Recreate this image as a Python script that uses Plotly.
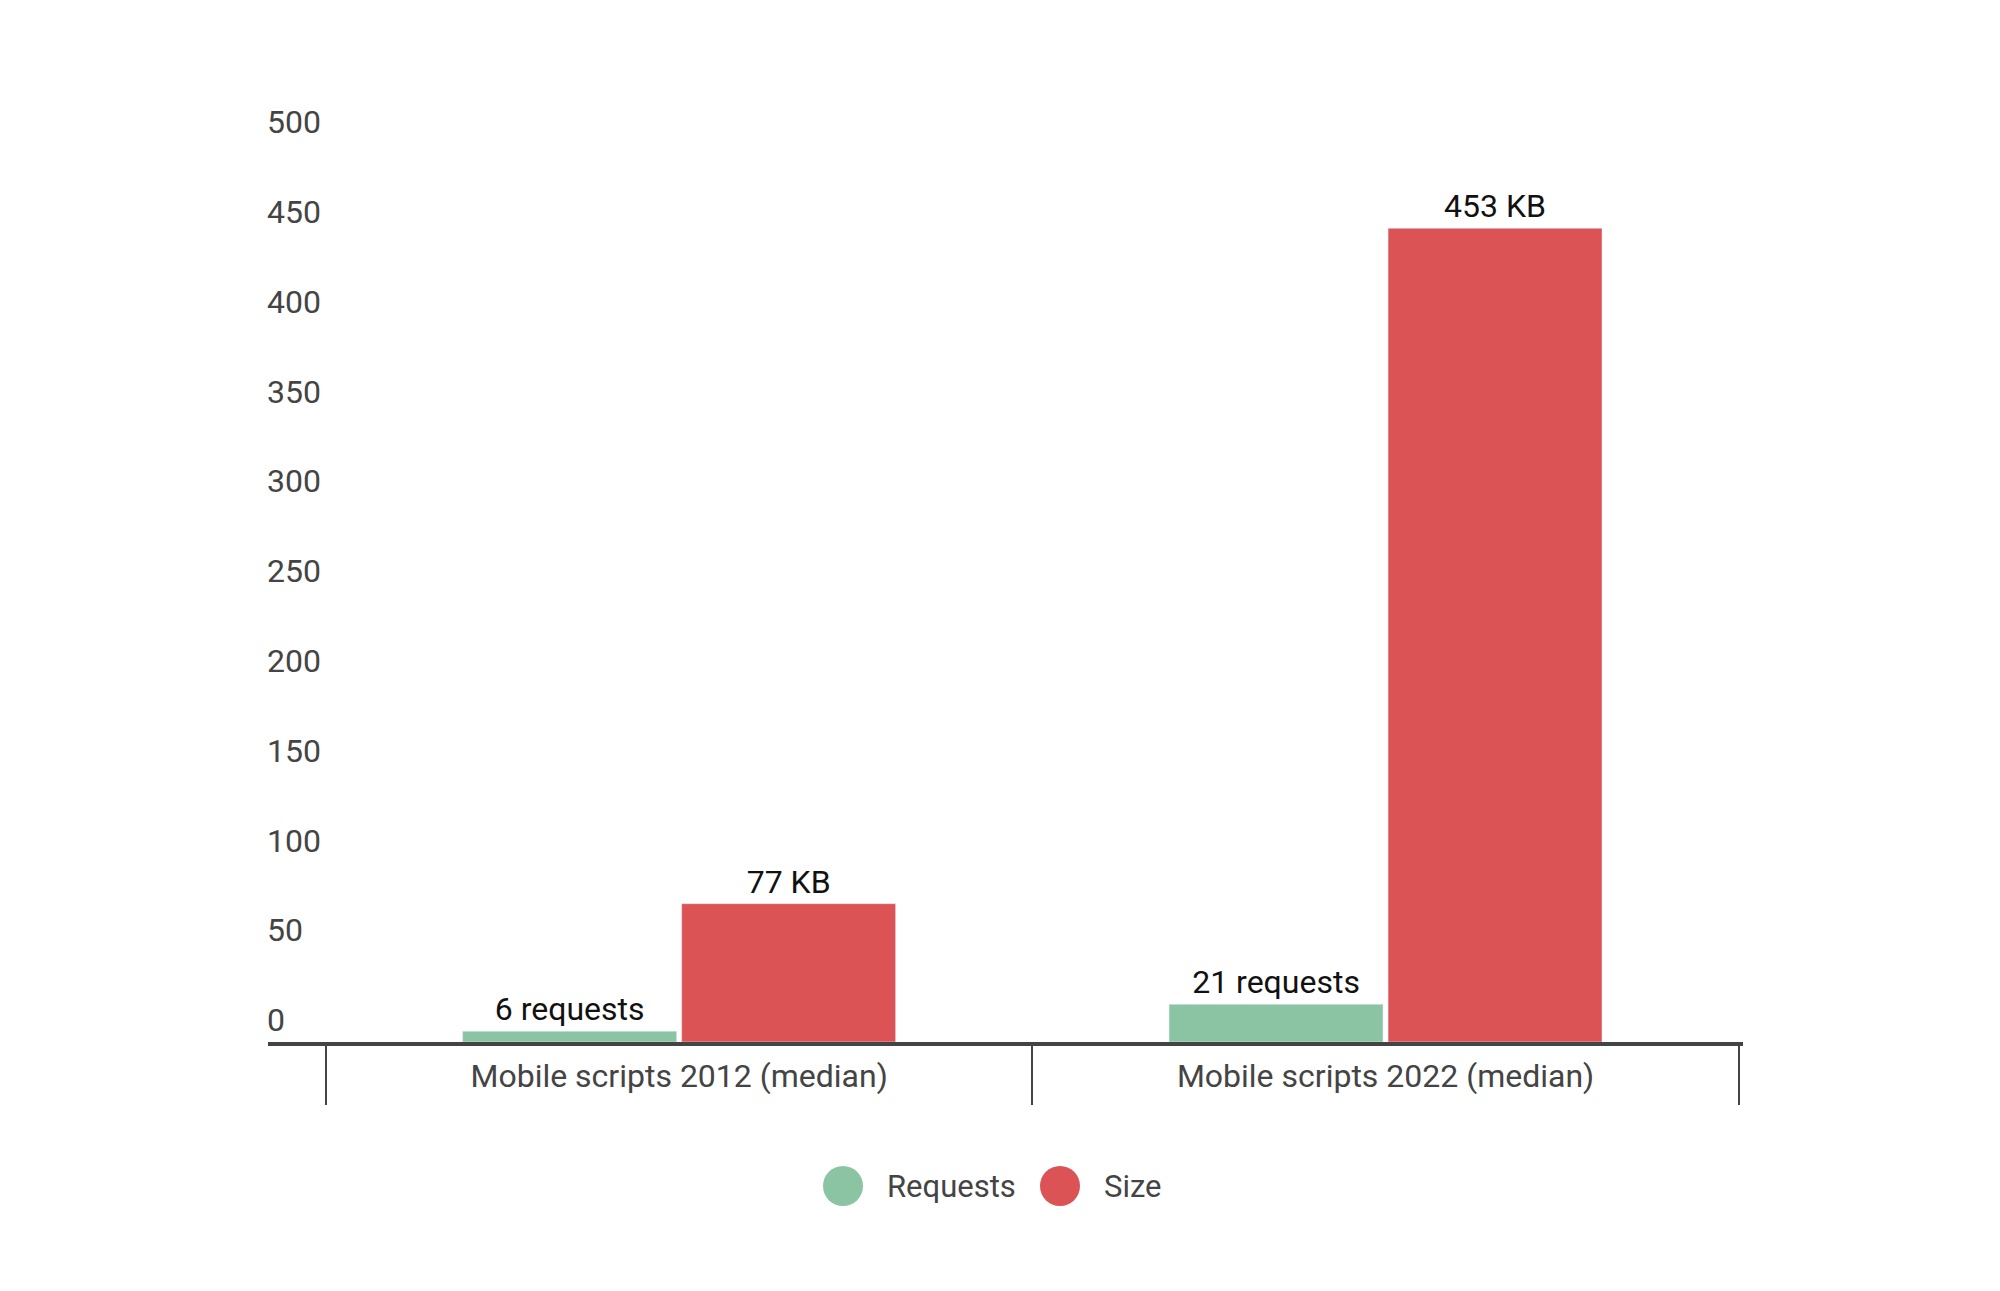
import plotly.graph_objects as go

categories = ["Mobile scripts 2012 (median)", "Mobile scripts 2022 (median)"]
requests_vals = [6, 21]
size_vals = [77, 453]
requests_labels = ["6 requests", "21 requests"]
size_labels = ["77 KB", "453 KB"]
y_ticks = [0, 50, 100, 150, 200, 250, 300, 350, 400, 450, 500]

GREEN = "#8BC4A2"
RED = "#DC5355"
FONT = "Roboto"
XR = [-0.582, 1.506]

fig = go.Figure()
fig.add_trace(go.Bar(
    x=categories, y=requests_vals, name="Requests", marker_color=GREEN,
    text=requests_labels, textposition="outside", cliponaxis=False,
    textfont=dict(family=FONT, size=32, color="#111111"), showlegend=False,
))
fig.add_trace(go.Bar(
    x=categories, y=size_vals, name="Size", marker_color=RED,
    text=size_labels, textposition="outside", cliponaxis=False,
    textfont=dict(family=FONT, size=32, color="#111111"), showlegend=False,
))
# invisible trace that carries the category divider ticks
fig.add_trace(go.Scatter(
    x=categories, y=[0, 0], xaxis="x2", mode="markers",
    marker=dict(opacity=0), showlegend=False, hoverinfo="skip",
))

ML, MR, MT, MB = 260, 265, 73, 257
fig.update_layout(
    width=2000, height=1291,
    margin=dict(l=ML, r=MR, t=MT, b=MB),
    paper_bgcolor="white", plot_bgcolor="white",
    font=dict(family=FONT, size=32, color="#444444"),
    barmode="group", bargap=0.38, bargroupgap=0.023,
    xaxis=dict(
        type="category", categoryorder="array", categoryarray=categories,
        range=XR, showgrid=False, zeroline=False,
        showline=True, linewidth=4, linecolor="#444444",
        ticks="", ticklabelstandoff=3,
        tickfont=dict(family=FONT, size=32, color="#444444"),
    ),
    xaxis2=dict(
        type="category", categoryorder="array", categoryarray=categories,
        range=XR, overlaying="x", anchor="y", side="bottom",
        showgrid=False, zeroline=False, showline=False,
        tickson="boundaries", ticks="outside", ticklen=62, tickwidth=2,
        tickcolor="#444444", showticklabels=False,
    ),
    yaxis=dict(
        range=[0, 535], tickvals=y_ticks, showgrid=False, zeroline=False,
        showline=False, ticks="", ticklabelposition="inside",
        ticklabeloverflow="allow", ticklabelshift=-22, ticklabelstandoff=-4,
        tickfont=dict(family=FONT, size=32, color="#444444"),
    ),
    showlegend=False,
)

# custom legend with large circular swatches (page-pixel positions of the reference)
legend_items = [("Requests", GREEN, 843, 885), ("Size", RED, 1060, 1102)]
plot_l, plot_w, plot_b, plot_h = 268, 1475, 1042, 961
ly = (plot_b - 1186) / plot_h
for name, color, cx, tx in legend_items:
    fig.add_shape(
        type="circle", xref="paper", yref="paper",
        xsizemode="pixel", ysizemode="pixel",
        xanchor=(cx - plot_l) / plot_w, yanchor=ly,
        x0=-20, x1=20, y0=-20, y1=20,
        fillcolor=color, line=dict(width=0),
    )
    fig.add_annotation(
        text=name, xref="paper", yref="paper",
        x=(tx - plot_l) / plot_w, y=ly, xanchor="left", yanchor="middle",
        showarrow=False, font=dict(family=FONT, size=31, color="#444444"),
    )

fig.write_html("out.html")
